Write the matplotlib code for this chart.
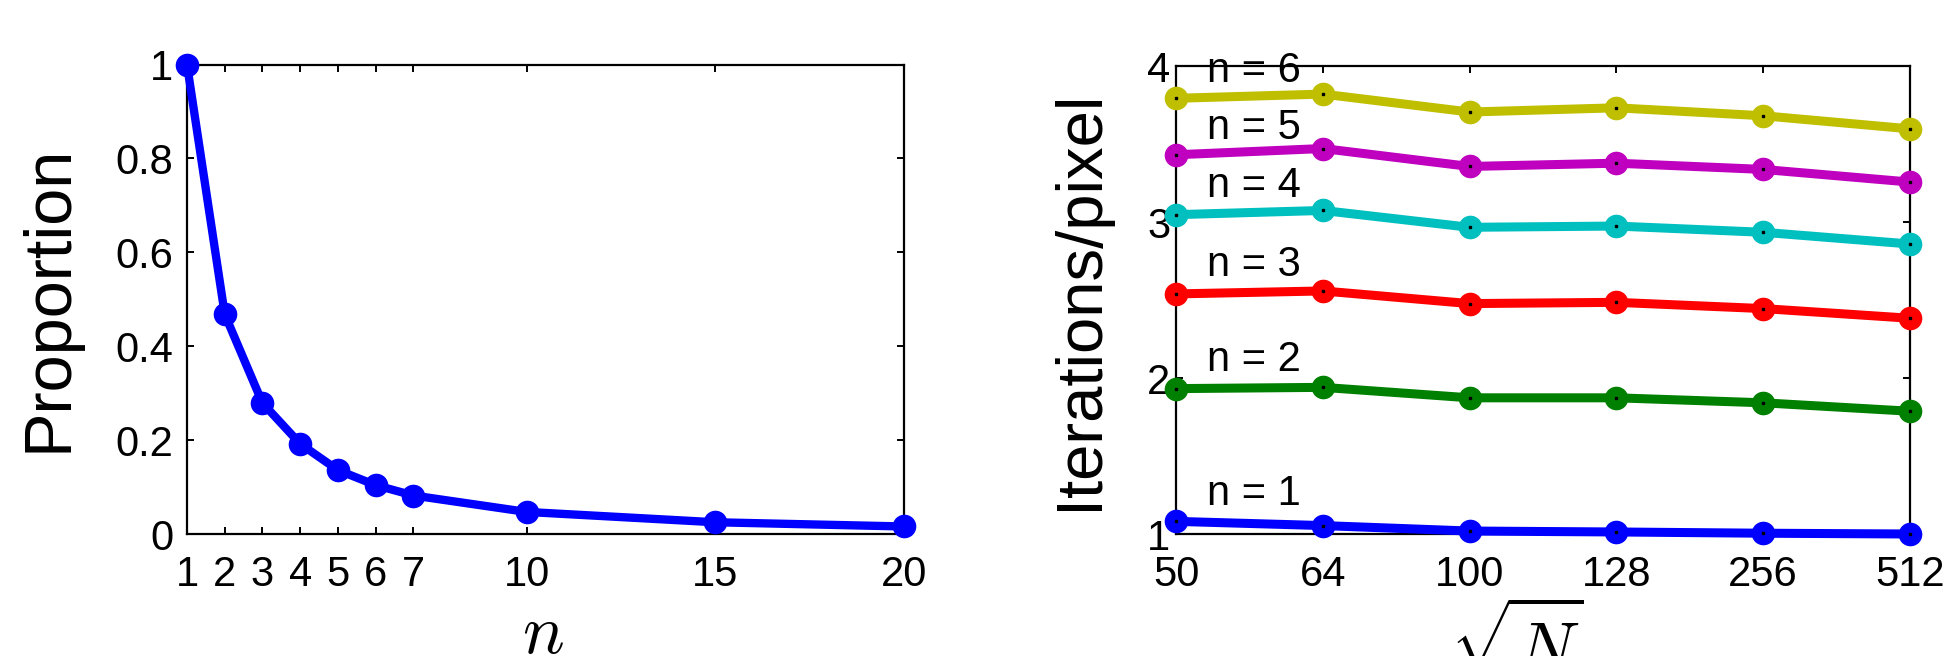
import matplotlib
matplotlib.use("Agg")
import matplotlib.pyplot as plt

plt.rcParams['font.family'] = ['Liberation Sans', 'DejaVu Sans']
plt.rcParams['mathtext.fontset'] = 'cm'

# ---- data: left panel ----
n_values = [1, 2, 3, 4, 5, 6, 7, 10, 15, 20]
proportion = [1.0, 0.468, 0.279, 0.192, 0.136, 0.104, 0.082, 0.047, 0.025, 0.016]
left_xticks = [1, 2, 3, 4, 5, 6, 7, 10, 15, 20]
left_yticks = [0, 0.2, 0.4, 0.6, 0.8, 1]
left_yticklabels = ['0', '0.2', '0.4', '0.6', '0.8', '1']

# ---- data: right panel ----
sqrtN_labels = ['50', '64', '100', '128', '256', '512']
iters_n1 = [1.081, 1.054, 1.019, 1.013, 1.005, 1.000]
iters_n2 = [1.932, 1.940, 1.873, 1.873, 1.841, 1.787]
iters_n3 = [2.539, 2.558, 2.477, 2.485, 2.445, 2.383]
iters_n4 = [3.047, 3.074, 2.966, 2.974, 2.934, 2.859]
iters_n5 = [3.431, 3.471, 3.356, 3.377, 3.337, 3.256]
iters_n6 = [3.793, 3.820, 3.705, 3.732, 3.681, 3.597]
series_names = ['n = 1', 'n = 2', 'n = 3', 'n = 4', 'n = 5', 'n = 6']
label_y = [1.187, 2.046, 2.651, 3.162, 3.53, 3.90]
right_yticks = [1, 2, 3, 4]

series = [iters_n1, iters_n2, iters_n3, iters_n4, iters_n5, iters_n6]
colors = [(0, 0, 1), (0, 0.5, 0), (1, 0, 0), (0, 0.75, 0.75), (0.75, 0, 0.75), (0.75, 0.75, 0)]

W, H = 1949, 656
fig = plt.figure(figsize=(W / 100, H / 100), dpi=100)

def fx(px):
    return px / W

def fy(py):
    return 1 - py / H

axL = fig.add_axes([fx(187), fy(534), fx(904) - fx(187), fy(64.5) - fy(534)])
axR = fig.add_axes([fx(1176), fy(534), fx(1910) - fx(1176), fy(66) - fy(534)])

for ax in (axL, axR):
    for s in ax.spines.values():
        s.set_linewidth(1.6)
        s.set_color('black')
    ax.tick_params(direction='in', top=True, right=True, length=5, width=1.4,
                   labelsize=30, colors='black')

# left panel
axL.plot(n_values, proportion, '-o', color=(0, 0, 1), lw=6, ms=16, clip_on=False, zorder=3)
axL.set_xlim(1, 20)
axL.set_ylim(0, 1)
axL.set_xticks(left_xticks)
axL.set_xticklabels([str(v) for v in left_xticks])
axL.set_yticks(left_yticks)
axL.set_yticklabels(left_yticklabels)
axL.tick_params(axis='x', pad=15)
axL.tick_params(axis='y', pad=10)

# right panel
xs = list(range(len(sqrtN_labels)))
for vals, c, name, ly in zip(series, colors, series_names, label_y):
    axR.plot(xs, vals, '-o', color=c, lw=6.5, ms=16, clip_on=False, zorder=3)
    axR.plot(xs, vals, 's', color='black', ms=1.5, clip_on=False, zorder=4, lw=0)
    axR.text(0.21, ly, name, fontsize=30, ha='left', va='baseline', zorder=5)
axR.set_xlim(0, len(sqrtN_labels) - 1)
axR.set_ylim(1, 4)
axR.set_xticks(xs)
axR.set_xticklabels(sqrtN_labels)
axR.set_yticks(right_yticks)
axR.set_yticklabels([str(v) for v in right_yticks])
axR.tick_params(axis='x', pad=15)
axR.tick_params(axis='y', pad=4)

# axis labels
fig.text(fx(50), fy(298.5), 'Proportion', rotation=90, ha='center', va='center', fontsize=48)
fig.text(fx(1080), fy(300), 'Iterations/pixel', rotation=90, ha='center', va='center', fontsize=47)
fig.text(fx(543), fy(653), r'$n$', ha='center', va='baseline', fontsize=50)
fig.text(fx(1517), fy(672), r'$\sqrt{N}$', ha='center', va='baseline', fontsize=50)

fig.savefig('out.png', dpi=100)
